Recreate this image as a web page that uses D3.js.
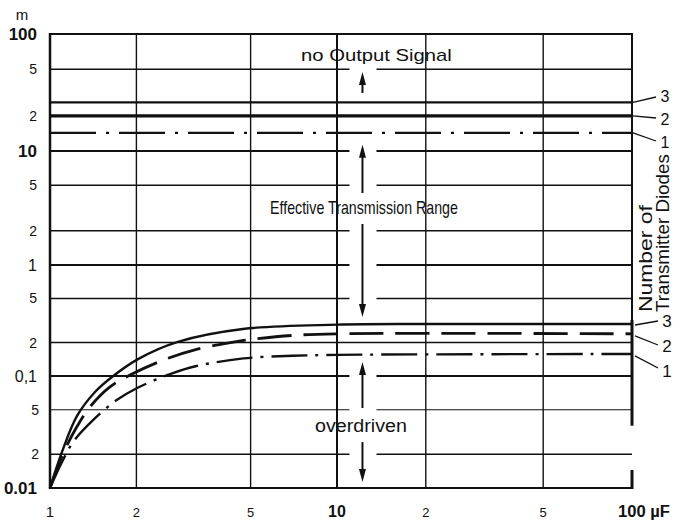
<!DOCTYPE html>
<html><head><meta charset="utf-8">
<script src="https://cdn.jsdelivr.net/npm/d3@7"></script>
<style>body{margin:0;background:#fff}svg{display:block}</style>
</head><body><svg id="c" width="674" height="520"></svg>
<script>
// ---------- data ----------
const xTicks = [1, 2, 5, 10, 20, 50, 100];
const xTickLabels = ["1", "2", "5", "10", "2", "5", "100 \u00b5F"];
const xBoldTicks = [10, 100];
const yTicks = [0.01, 0.02, 0.05, 0.1, 0.2, 0.5, 1, 2, 5, 10, 20, 50, 100];
const yTickLabels = ["0.01", "2", "5", "0,1", "2", "5", "1", "2", "5", "10", "2", "5", "100"];
const yBoldTicks = [0.01, 10, 100];
const gridGapValues = [0.02, 0.05, 0.1, 0.5, 1, 2, 5, 10, 50];
const diodes = [1, 2, 3];
const upperLimit = [14.3, 20, 26];          // m, "no output signal" limit per diode count
const curve1 = [[1,0.01],[1.1,0.017],[1.206,0.0259],[1.415,0.0405],[1.708,0.061],[2.005,0.0777],[2.62,0.104],[3.24,0.123],[4.72,0.144],[7,0.152],[10,0.155],[100,0.158]];
const curve2 = [[1,0.01],[1.112,0.0204],[1.239,0.035],[1.378,0.053],[1.618,0.08],[1.9,0.102],[2.48,0.139],[3.24,0.174],[4.47,0.204],[5,0.213],[7,0.232],[10,0.24],[100,0.24]];
const curve3 = [[1,0.01],[1.101,0.021],[1.242,0.044],[1.435,0.072],[1.644,0.098],[2.026,0.142],[2.772,0.202],[4.7,0.265],[10,0.29],[20,0.294],[100,0.294]];
const arrowX = 12.2;
const arrows = [[31.3, 47.3], [4.28, 11.3], [2.29, 0.34], [0.0518, 0.134], [0.0257, 0.0113]]; // [from, tip]
const rangeLabels = ["no Output Signal", "Effective Transmission Range", "overdriven"];

// ---------- scales ----------
const svg = d3.select("#c");
const x = d3.scaleLog().domain([1, 10, 100]).range([50, 337, 632]);
const y = d3.scaleLog().domain([0.01, 0.1, 1, 10, 100]).range([488, 376, 265, 151, 34]);
const ink = "#111";
const sans = "'Liberation Sans',Arial,sans-serif";

// text squeezed horizontally to a given width, keeping its full height
function fitText(str, tx, ty, rot, fs, len) {
  const t = svg.append("text").attr("font-family", sans).attr("font-size", fs).attr("fill", ink).text(str);
  const w = t.node().getComputedTextLength();
  t.attr("transform", `translate(${tx},${ty}) rotate(${rot}) scale(${len / w},1)`);
  return t;
}

const g = svg.append("g");
const ax = x(arrowX), gapHalf = 13;

// vertical grid
xTicks.slice(1, -1).forEach(v => {
  g.append("line").attr("x1", x(v)).attr("x2", x(v)).attr("y1", y(100)).attr("y2", y(0.01))
    .attr("stroke", ink).attr("stroke-width", v === 10 ? 2 : 1.4);
});
// horizontal grid
yTicks.forEach(v => {
  const w = (v === 100 || v === 10 || v === 1 || v === 0.1 || v === 0.01) ? 2 : (v === 0.05 ? 1.1 : 1.5);
  const segs = gridGapValues.includes(v) ? [[x(1), ax - gapHalf], [ax + gapHalf + 1, x(100)]] : [[x(1), x(100)]];
  segs.forEach(s => g.append("line").attr("x1", s[0]).attr("x2", s[1]).attr("y1", y(v)).attr("y2", y(v))
    .attr("stroke", ink).attr("stroke-width", w));
});
// frame
g.append("line").attr("x1", x(1)).attr("x2", x(1)).attr("y1", y(100) - 1).attr("y2", y(0.01) + 1).attr("stroke", ink).attr("stroke-width", 2.5);
g.append("line").attr("x1", x(100)).attr("x2", x(100)).attr("y1", y(100) - 1).attr("y2", y(0.32)).attr("stroke", ink).attr("stroke-width", 2);
g.append("line").attr("x1", x(100)).attr("x2", x(100)).attr("y1", y(0.32)).attr("y2", y(0.036)).attr("stroke", ink).attr("stroke-width", 3);
g.append("line").attr("x1", x(100)).attr("x2", x(100)).attr("y1", y(0.0145)).attr("y2", y(0.01) + 1).attr("stroke", ink).attr("stroke-width", 3);

// upper limit lines
const upperStyle = [{w: 2.2, d: "46,10,3,10"}, {w: 3.2, d: null}, {w: 2.2, d: null}];
diodes.forEach((n, i) => {
  const l = g.append("line").attr("x1", x(1)).attr("x2", x(100)).attr("y1", y(upperLimit[i])).attr("y2", y(upperLimit[i]))
    .attr("stroke", ink).attr("stroke-width", upperStyle[i].w);
  if (upperStyle[i].d) l.attr("stroke-dasharray", upperStyle[i].d);
});

// lower curves
const line = d3.line().x(d => x(d[0])).y(d => y(d[1])).curve(d3.curveCatmullRom.alpha(0.5));
const curves = [curve1, curve2, curve3];
const curveStyle = [{w: 2.4, d: "36,8,3,8"}, {w: 2.8, d: "34,12"}, {w: 2.4, d: null}];
curves.forEach((c, i) => {
  const p = g.append("path").attr("d", line(c)).attr("fill", "none").attr("stroke", ink)
    .attr("stroke-width", curveStyle[i].w).attr("stroke-linecap", "butt");
  if (curveStyle[i].d) p.attr("stroke-dasharray", curveStyle[i].d);
});

// arrows
arrows.forEach(a => {
  const y0 = y(a[0]), y1 = y(a[1]);
  const dir = y1 < y0 ? -1 : 1, hl = 13, hw = 3.5;
  g.append("line").attr("x1", ax).attr("x2", ax).attr("y1", y0).attr("y2", y1 - dir * hl + dir * 2)
    .attr("stroke", ink).attr("stroke-width", 2);
  g.append("path").attr("d", `M${ax},${y1} L${ax - hw},${y1 - dir * hl} L${ax + hw},${y1 - dir * hl} Z`).attr("fill", ink);
});

// range labels
fitText(rangeLabels[0], 301, 61, 0, 17, 151);
fitText(rangeLabels[1], 270, 214, 0, 18, 188);
fitText(rangeLabels[2], 315, 432, 0, 18, 92);

// y tick labels
yTicks.forEach((v, i) => {
  const bold = yBoldTicks.includes(v);
  const decade = [0.1, 1].includes(v);
  svg.append("text").attr("x", v < 0.1 && !bold ? 39 : 37).attr("y", y(v)).attr("dy", "0.36em")
    .attr("text-anchor", "end").attr("font-family", sans)
    .attr("font-size", bold ? 17 : (decade ? 16 : 14)).attr("font-weight", bold ? "bold" : "normal")
    .attr("fill", ink).text(yTickLabels[i]);
});
svg.append("text").attr("x", 22).attr("y", 20).attr("text-anchor", "middle").attr("font-family", sans)
  .attr("font-size", 15).attr("fill", ink).text("m");

// x tick labels
xTicks.forEach((v, i) => {
  const bold = xBoldTicks.includes(v);
  const t = svg.append("text").attr("y", 517).attr("font-family", sans)
    .attr("font-size", bold ? 16 : (v === 1 ? 15 : 13)).attr("font-weight", bold ? "bold" : "normal").attr("fill", ink)
    .text(xTickLabels[i]);
  if (v === 100) t.attr("x", x(v) - 14).attr("text-anchor", "start").attr("textLength", 52).attr("lengthAdjust", "spacingAndGlyphs");
  else t.attr("x", x(v)).attr("text-anchor", "middle");
});

// diode count labels with leaders
const upperLead = [[134, 141, 148], [118, 118, 125], [103, 97, 102]];
const lowerVals = [curve1[curve1.length - 1][1], curve2[curve2.length - 1][1], curve3[curve3.length - 1][1]];
const lowerLead = [[357, 368, 377], [336, 345, 352], [325, 321, 327]];
diodes.forEach((n, i) => {
  const u = upperLead[i];
  svg.append("line").attr("x1", x(100) + 1).attr("y1", y(upperLimit[i])).attr("x2", 656).attr("y2", u[1])
    .attr("stroke", ink).attr("stroke-width", 1.3);
  svg.append("text").attr("x", 665).attr("y", u[2]).attr("text-anchor", "middle").attr("font-family", sans)
    .attr("font-size", 16).attr("fill", ink).text(n);
  const lw = lowerLead[i];
  svg.append("line").attr("x1", x(100) + 3).attr("y1", y(lowerVals[i]) + (i === 2 ? 1 : 2)).attr("x2", 658).attr("y2", lw[1])
    .attr("stroke", ink).attr("stroke-width", 1.3);
  svg.append("text").attr("x", 667).attr("y", lw[2]).attr("text-anchor", "middle").attr("font-family", sans)
    .attr("font-size", 17).attr("fill", ink).text(n);
});

// rotated legend title
fitText("Number of", 652, 312, -90, 18, 107);
fitText("Transmitter Diodes", 669, 312, -90, 18, 158);
</script></body></html>
